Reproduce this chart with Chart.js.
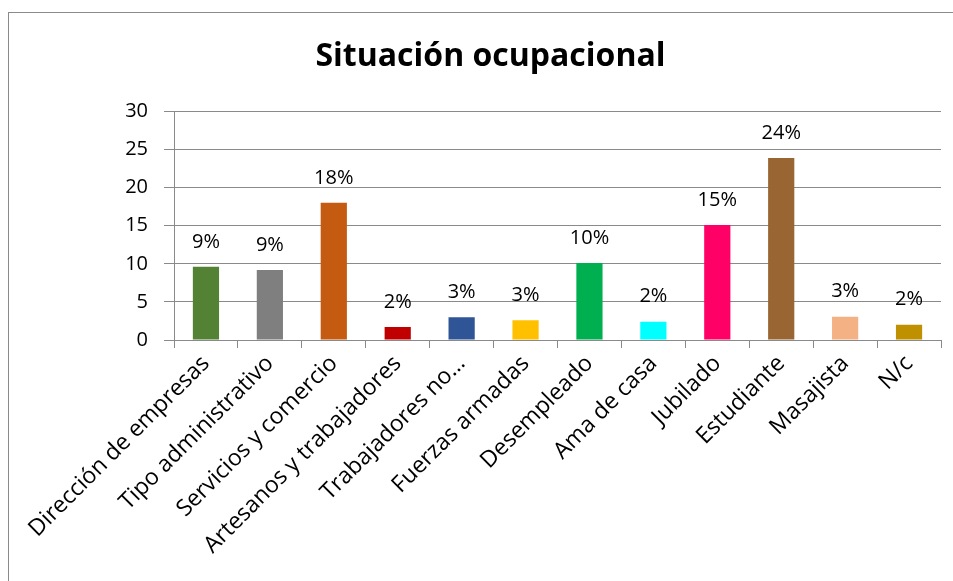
<!DOCTYPE html>
<html>
<head>
<meta charset="utf-8">
<style>
  body { margin: 0; background: #fff; }
  #frame { position: absolute; left: 8px; top: 12px; width: 980px; height: 620px; border: 1px solid #8a8a8a; }
  #wrap { position: absolute; left: 0; top: 0; width: 953px; height: 581px; }
</style>
</head>
<body>
<div id="frame"></div>
<div id="wrap"><canvas id="chart" width="953" height="581"></canvas></div>

<script src="https://cdn.jsdelivr.net/npm/chart.js@4.4.0/dist/chart.umd.min.js"></script>
<script>
  const categories = ["Dirección de empresas", "Tipo administrativo", "Servicios y comercio",
    "Artesanos y trabajadores", "Trabajadores no…", "Fuerzas armadas", "Desempleado",
    "Ama de casa", "Jubilado", "Estudiante", "Masajista", "N/c"]
  const values = [9.6, 9.2, 18, 1.7, 3, 2.6, 10.1, 2.4, 15.1, 23.9, 3.05, 2]
  const pctLabels = ["9%", "9%", "18%", "2%", "3%", "3%", "10%", "2%", "15%", "24%", "3%", "2%"]
  const barColors = ["#548235", "#7f7f7f", "#c55a11", "#c00000", "#2f5597", "#ffc000",
    "#00b050", "#00ffff", "#ff0066", "#996633", "#f4b183", "#bf9000"]
  const yTicks = [0, 5, 10, 15, 20, 25, 30]

  const fontFamily = "'Open Sans', Lato, sans-serif"

  // draws the percent text above every bar
  const barLabels = {
    id: 'barLabels',
    afterDatasetsDraw(chart) {
      const ctx = chart.ctx
      const meta = chart.getDatasetMeta(0)
      ctx.save()
      ctx.font = "20px " + fontFamily
      ctx.fillStyle = "#000"
      ctx.textAlign = "center"
      ctx.textBaseline = "middle"
      meta.data.forEach((bar, i) => {
        ctx.fillText(pctLabels[i], bar.x, bar.y - 25)
      })
      ctx.restore()
    }
  }

  const ctx = document.getElementById('chart').getContext('2d')
  new Chart(ctx, {
    type: 'bar',
    data: {
      labels: categories,
      datasets: [{
        data: values,
        backgroundColor: barColors,
        borderWidth: 0,
        categoryPercentage: 1,
        barPercentage: 0.41
      }]
    },
    options: {
      responsive: false,
      animation: false,
      // left padding only moves the title centre, the y axis width makes up for it
      layout: { padding: { top: 12, right: 12, left: 40, bottom: 0 } },
      plugins: {
        legend: { display: false },
        tooltip: { enabled: false },
        title: {
          display: true,
          text: "Situación ocupacional",
          color: "#000",
          font: { family: fontFamily, size: 32, weight: 'bold' },
          padding: { top: 26, bottom: 35 }
        }
      },
      scales: {
        x: {
          grid: { drawOnChartArea: false, color: "#8a8a8a", tickLength: 8, offset: true },
          border: { color: "#8a8a8a" },
          ticks: {
            color: "#000",
            font: { family: fontFamily, size: 23 },
            minRotation: 45,
            maxRotation: 45,
            autoSkip: false,
            padding: 2
          },
          afterFit(scale) { scale.height = 241 }
        },
        y: {
          min: 0,
          max: 30,
          grid: { color: "#8a8a8a", tickLength: 10 },
          border: { color: "#8a8a8a" },
          afterBuildTicks(scale) { scale.ticks = yTicks.map(v => ({ value: v })) },
          ticks: {
            color: "#000",
            font: { family: fontFamily, size: 20 },
            padding: 16
          },
          afterFit(scale) { scale.width = 134 }
        }
      }
    },
    plugins: [barLabels]
  })
</script>
</body>
</html>
